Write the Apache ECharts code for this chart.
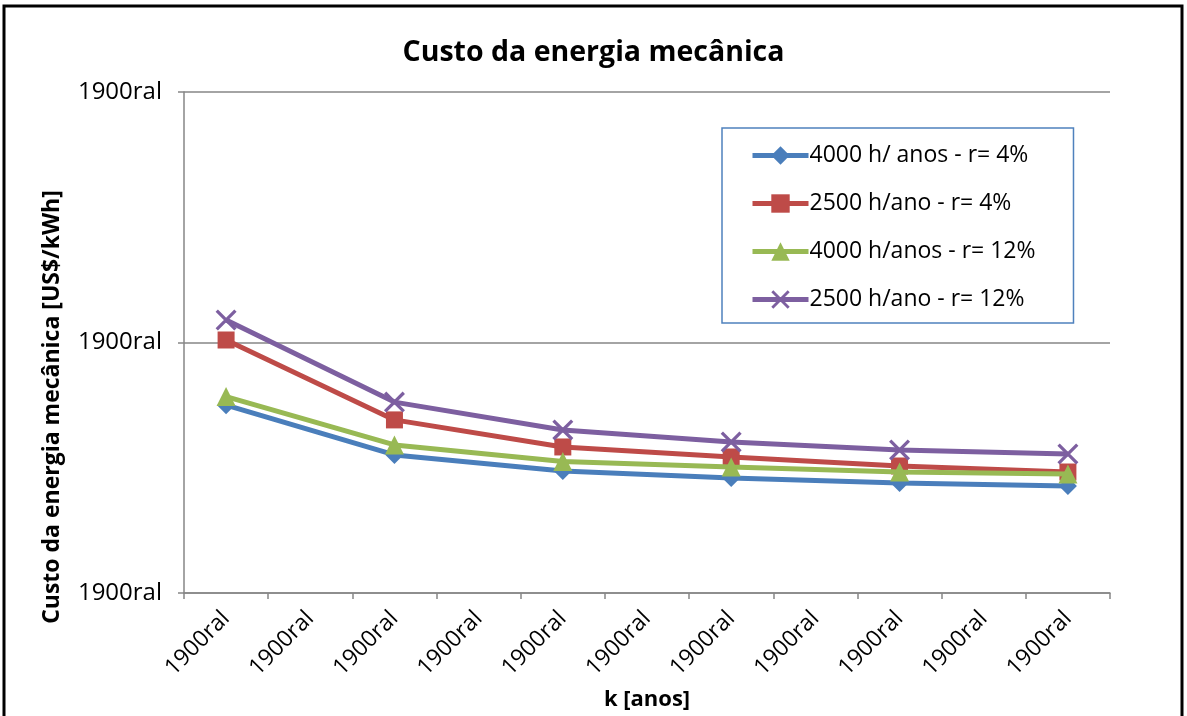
<!DOCTYPE html>
<html>
<head>
<meta charset="utf-8">
<script src="https://cdn.jsdelivr.net/npm/echarts@6/dist/echarts.min.js"></script>
<style>html,body{margin:0;padding:0;background:#fff;}#c{width:1187px;height:716px;}</style>
</head>
<body>
<div id="c"></div>
<script>
var titleText = 'Custo da energia mecânica';
var yAxisName = 'Custo da energia mecânica [US$/kWh]';
var xAxisName = 'k [anos]';
var categories = ['1900ral','1900ral','1900ral','1900ral','1900ral','1900ral','1900ral','1900ral','1900ral','1900ral','1900ral'];
var yTickLabels = ['1900ral','1900ral','1900ral'];
var seriesNames = ['4000 h/ anos - r= 4%','2500 h/ano - r= 4%','4000 h/anos - r= 12%','2500 h/ano - r= 12%'];
var s1 = [0.750, null, 0.551, null, 0.487, null, 0.459, null, 0.439, null, 0.427];
var s2 = [1.010, null, 0.691, null, 0.583, null, 0.543, null, 0.507, null, 0.483];
var s3 = [0.784, null, 0.591, null, 0.525, null, 0.503, null, 0.483, null, 0.475];
var s4 = [1.090, null, 0.762, null, 0.651, null, 0.603, null, 0.571, null, 0.555];

var FONT = '"Open Sans", "DejaVu Sans", sans-serif';
var colors = ['#4a7ebb', '#be4b48', '#98b954', '#7d5fa0'];
var xSym = 'path://M0,1.1 L1.1,0 L10,8.9 L8.9,10 Z M8.9,0 L10,1.1 L1.1,10 L0,8.9 Z';
var symbols = ['diamond', 'rect', 'triangle', xSym];
var symSizes = [18, 17, 19, 21];
var data = [s1, s2, s3, s4];

var chart = echarts.init(document.getElementById('c'), null, {renderer: 'canvas'});
var series = data.map(function (d, i) {
  return {
    name: seriesNames[i],
    type: 'line',
    data: d,
    connectNulls: true,
    symbol: symbols[i],
    symbolSize: symSizes[i],
    showAllSymbol: true,
    lineStyle: {width: 5, color: colors[i]},
    itemStyle: {color: colors[i]},
    z: 2 + i
  };
});

chart.setOption({
  animation: false,
  backgroundColor: '#ffffff',
  title: {
    text: titleText,
    left: 'center',
    top: 33,
    textStyle: {fontFamily: FONT, fontWeight: 'bold', fontSize: 28.5, color: '#000'}
  },
  legend: {
    orient: 'vertical',
    left: 722,
    top: 128,
    padding: [16, 38, 12, 28],
    itemWidth: 56,
    itemHeight: 23,
    itemGap: 25,
    borderColor: '#4f81bd',
    borderWidth: 1.5,
    backgroundColor: '#fff',
    lineStyle: {width: 5},
    textStyle: {fontFamily: FONT, fontSize: 23, color: '#000', padding: [0, 0, 0, -4]},
    data: seriesNames
  },
  grid: {left: 184, right: 77, top: 92, bottom: 123, containLabel: false},
  xAxis: {
    type: 'category',
    data: categories,
    boundaryGap: true,
    axisLine: {lineStyle: {color: '#868686', width: 1.5}},
    axisTick: {show: true, length: 6, alignWithLabel: false, interval: 0, lineStyle: {color: '#868686', width: 1.5}},
    axisLabel: {rotate: 45, interval: 0, margin: 22, fontFamily: FONT, fontSize: 23, color: '#000'},
    splitLine: {show: false}
  },
  yAxis: {
    type: 'value',
    min: 0,
    max: 2,
    interval: 1,
    axisLine: {show: true, lineStyle: {color: '#868686', width: 1.5}},
    axisTick: {show: true, length: 6, lineStyle: {color: '#868686', width: 1.5}},
    axisLabel: {
      margin: 22,
      fontFamily: FONT,
      fontSize: 24,
      color: '#000',
      formatter: function (v) { return yTickLabels[Math.round(v)]; }
    },
    splitLine: {show: true, lineStyle: {color: '#868686', width: 1.5}}
  },
  graphic: [
    {
      type: 'rect',
      shape: {x: 4, y: 6, width: 1178, height: 730},
      style: {fill: 'none', stroke: '#000', lineWidth: 3},
      silent: true
    },
    {
      type: 'text',
      x: 52,
      y: 407,
      rotation: Math.PI / 2,
      style: {text: yAxisName, fontFamily: FONT, fontWeight: 'bold', fontSize: 23, fill: '#000', align: 'center', verticalAlign: 'middle'}
    },
    {
      type: 'text',
      x: 647,
      y: 700,
      style: {text: xAxisName, fontFamily: FONT, fontWeight: 'bold', fontSize: 22, fill: '#000', align: 'center', verticalAlign: 'middle'}
    }
  ],
  series: series
});
</script>
</body>
</html>
